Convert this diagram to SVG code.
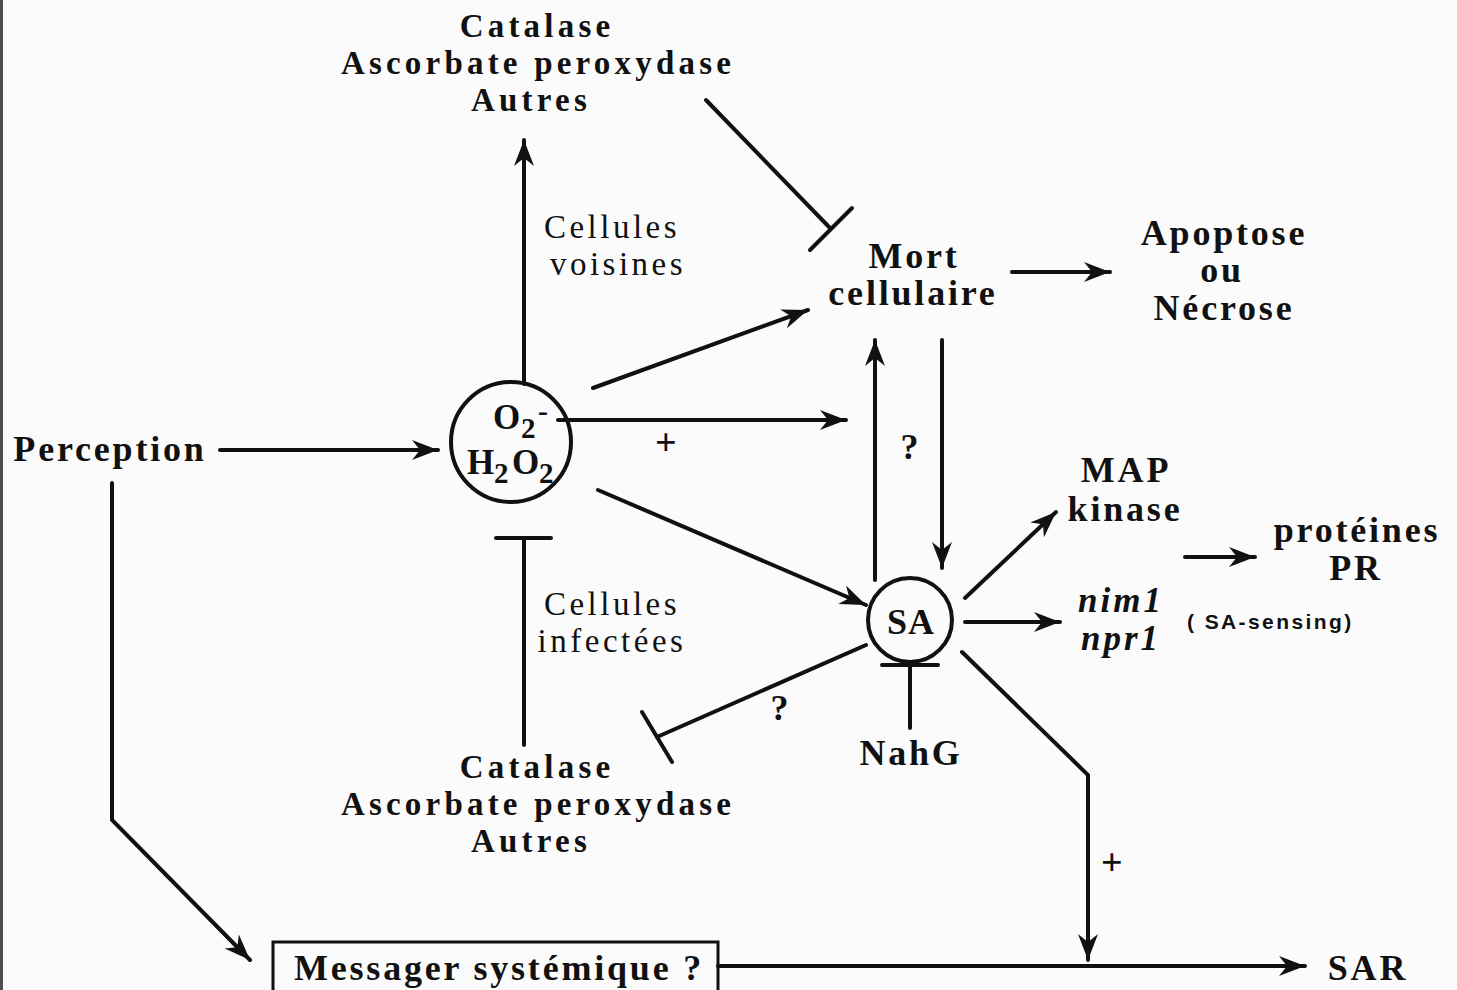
<svg xmlns="http://www.w3.org/2000/svg" width="1457" height="990" viewBox="0 0 1457 990">
<defs>
<style>
.b{font-family:"Liberation Serif",serif;font-weight:bold;font-size:36px;letter-spacing:2.8px;fill:#111;text-anchor:middle}
.c{font-family:"Liberation Serif",serif;font-weight:bold;font-size:33px;letter-spacing:4.2px;fill:#111;text-anchor:middle}
.r{font-family:"Liberation Serif",serif;font-size:33px;letter-spacing:3.5px;fill:#111;text-anchor:middle}
.i{font-family:"Liberation Serif",serif;font-weight:bold;font-style:italic;font-size:35px;letter-spacing:3px;fill:#111;text-anchor:middle}
.s{font-family:"Liberation Sans",sans-serif;font-weight:bold;font-size:21px;letter-spacing:2.4px;fill:#111}
.f{font-family:"Liberation Serif",serif;font-weight:bold;fill:#111}
.ln{stroke:#111;stroke-width:4;fill:none;stroke-linecap:round;stroke-linejoin:miter}
.ar{marker-end:url(#ah)}
.shape{stroke:#111;stroke-width:4;fill:none}
</style>
<marker id="ah" markerUnits="userSpaceOnUse" markerWidth="30" markerHeight="24" refX="26" refY="10" orient="auto" viewBox="0 0 30 24">
<path d="M0,0 L26,10 L0,20 L8,10 Z" fill="#111"/>
</marker>
</defs>
<rect width="1457" height="990" fill="#fbfbfb"/>
<line x1="1.5" y1="0" x2="1.5" y2="990" stroke="#222" stroke-width="3" opacity="0.8"/>

<g id="connectors">
<line class="ln ar" x1="220" y1="450" x2="438" y2="450"/>
<polyline class="ln ar" points="112,483 112,820 250,960"/>
<line class="ln ar" x1="524" y1="384" x2="524" y2="140"/>
<line class="ln" x1="524" y1="745" x2="524" y2="540"/>
<line class="ln" x1="496" y1="538" x2="551" y2="538"/>
<line class="ln" x1="706" y1="100" x2="830" y2="228"/>
<line class="ln" x1="810" y1="250" x2="852" y2="208"/>
<line class="ln ar" x1="593" y1="388" x2="808" y2="310"/>
<line class="ln ar" x1="558" y1="420" x2="846" y2="420"/>
<line class="ln ar" x1="598" y1="490" x2="866" y2="605"/>
<line class="ln ar" x1="875" y1="580" x2="875" y2="340"/>
<line class="ln ar" x1="942" y1="340" x2="942" y2="568"/>
<line class="ln ar" x1="1012" y1="272" x2="1110" y2="272"/>
<line class="ln ar" x1="965" y1="598" x2="1056" y2="512"/>
<line class="ln ar" x1="965" y1="622" x2="1060" y2="622"/>
<line class="ln ar" x1="1185" y1="557" x2="1255" y2="557"/>
<line class="ln" x1="866" y1="645" x2="657" y2="737"/>
<line class="ln" x1="642" y1="712" x2="672" y2="762"/>
<line class="ln" x1="910" y1="728" x2="910" y2="667"/>
<line class="ln" x1="882" y1="665" x2="938" y2="665"/>
<polyline class="ln ar" points="962,652 1088,775 1088,960"/>
<line class="ln ar" x1="718" y1="966" x2="1305" y2="966"/>
</g>

<g id="perception"><text class="b" x="110" y="461">Perception</text></g>

<g id="ros">
<circle class="shape" cx="511" cy="442" r="60"/>
<text class="f" font-size="35" x="493" y="429">O</text>
<text class="f" font-size="29" x="521" y="438">2</text>
<text class="f" font-size="30" x="538" y="421">-</text>
<text class="f" font-size="35" x="467" y="474">H</text>
<text class="f" font-size="29" x="494" y="483">2</text>
<text class="f" font-size="35" x="512" y="474">O</text>
<text class="f" font-size="29" x="539" y="483">2</text>
</g>

<g id="catalase-top">
<text class="c" x="537" y="37">Catalase</text>
<text class="c" x="538" y="74">Ascorbate peroxydase</text>
<text class="c" x="531" y="111">Autres</text>
</g>

<g id="cellules-voisines">
<text class="r" x="612" y="238">Cellules</text>
<text class="r" x="618" y="275">voisines</text>
</g>

<g id="mort">
<text class="b" x="914" y="268">Mort</text>
<text class="b" x="913" y="305">cellulaire</text>
</g>

<g id="apoptose">
<text class="b" x="1224" y="245">Apoptose</text>
<text class="b" x="1222" y="282">ou</text>
<text class="b" x="1224" y="320">Nécrose</text>
</g>

<g id="plus1"><text class="f" font-size="38" x="655" y="455">+</text></g>
<g id="q1"><text class="b" x="911" y="459">?</text></g>

<g id="sa">
<circle class="shape" cx="910" cy="620" r="42"/>
<text class="b" x="911" y="634" style="letter-spacing:1px">SA</text>
</g>

<g id="map">
<text class="b" x="1126" y="482">MAP</text>
<text class="b" x="1125" y="521">kinase</text>
</g>

<g id="proteines">
<text class="b" x="1357" y="542">protéines</text>
<text class="b" x="1356" y="580">PR</text>
</g>

<g id="nim">
<text class="i" x="1121" y="612">nim1</text>
<text class="i" x="1121" y="650">npr1</text>
</g>

<g id="sensing"><text class="s" x="1187" y="629">( SA-sensing)</text></g>

<g id="cellules-infectees">
<text class="r" x="612" y="615">Cellules</text>
<text class="r" x="612" y="652">infectées</text>
</g>

<g id="q2"><text class="b" x="781" y="720">?</text></g>

<g id="nahg"><text class="b" x="911" y="765">NahG</text></g>

<g id="catalase-bottom">
<text class="c" x="537" y="778">Catalase</text>
<text class="c" x="538" y="815">Ascorbate peroxydase</text>
<text class="c" x="531" y="852">Autres</text>
</g>

<g id="plus2"><text class="f" font-size="38" x="1101" y="875">+</text></g>

<g id="messager">
<rect class="shape" x="273" y="942" width="445" height="60" style="stroke-width:3"/>
<text class="b" x="499" y="980">Messager systémique ?</text>
</g>

<g id="sar"><text class="b" x="1368" y="980">SAR</text></g>
</svg>
